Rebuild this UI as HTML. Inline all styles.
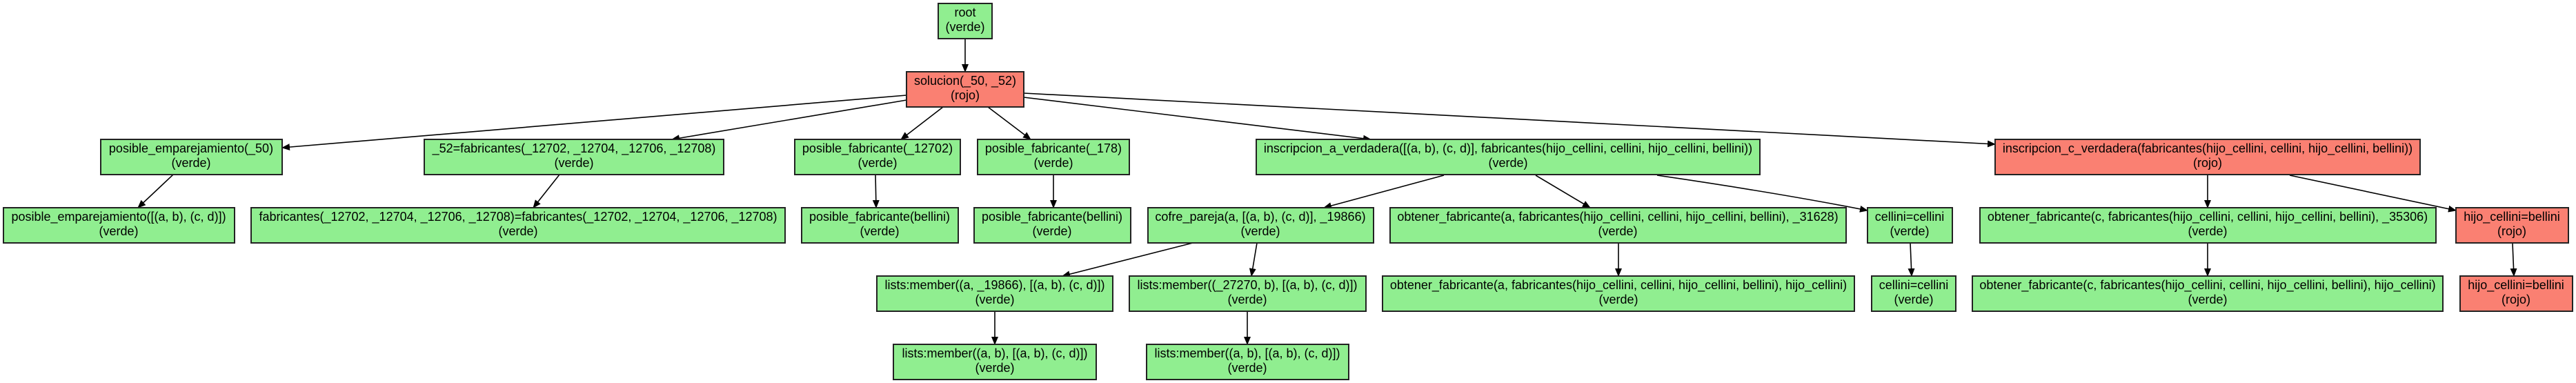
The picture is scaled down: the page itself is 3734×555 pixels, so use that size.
<!DOCTYPE html>
<html><head><meta charset="utf-8"><style>
html,body{margin:0;padding:0;background:#fff;}
svg{display:block;}
text{font-family:"Liberation Sans",Arial,sans-serif;font-size:18px;fill:#000;text-anchor:middle;}
.g{fill:#90ee90;stroke:#222;stroke-width:2;}
.r{fill:#fa8072;stroke:#222;stroke-width:2;}
.e{stroke:#000;stroke-width:1.6;fill:none;marker-end:url(#a);}
</style></head><body>
<svg width="3734" height="555" viewBox="0 0 3734 555" xmlns="http://www.w3.org/2000/svg">
<defs><marker id="a" markerWidth="12" markerHeight="10" refX="11" refY="5" orient="auto" markerUnits="userSpaceOnUse"><path d="M0,0 L12,5 L0,10 z" fill="#000"/></marker></defs>
<!-- edges -->
<line class="e" x1="1399" y1="56" x2="1399" y2="104"/>
<line class="e" x1="1314" y1="138" x2="409" y2="214"/>
<line class="e" x1="1314" y1="145" x2="974" y2="202"/>
<line class="e" x1="1367" y1="155" x2="1306" y2="202"/>
<line class="e" x1="1432" y1="155" x2="1494" y2="202"/>
<line class="e" x1="1484" y1="141" x2="1987" y2="202"/>
<line class="e" x1="1484" y1="135" x2="2892" y2="209"/>
<line class="e" x1="251" y1="253" x2="200" y2="301"/>
<line class="e" x1="811" y1="253" x2="773" y2="301"/>
<line class="e" x1="1269" y1="253" x2="1270" y2="301"/>
<line class="e" x1="1527" y1="253" x2="1527" y2="301"/>
<line class="e" x1="2093" y1="254" x2="1919" y2="301"/>
<line class="e" x1="2226" y1="254" x2="2305" y2="301"/>
<path class="e" d="M2402,254 Q2580,280 2707,305"/>
<line class="e" x1="3200" y1="254" x2="3200" y2="301"/>
<line class="e" x1="3319" y1="254" x2="3560" y2="305"/>
<line class="e" x1="1729" y1="352" x2="1540" y2="400"/>
<line class="e" x1="1822" y1="352" x2="1814" y2="400"/>
<line class="e" x1="2346" y1="352" x2="2346" y2="400"/>
<line class="e" x1="2769" y1="352" x2="2771" y2="400"/>
<line class="e" x1="3200" y1="352" x2="3200" y2="400"/>
<line class="e" x1="3642" y1="352" x2="3644" y2="400"/>
<line class="e" x1="1442" y1="451" x2="1442" y2="499"/>
<line class="e" x1="1808" y1="451" x2="1808" y2="499"/>
<!-- nodes -->
<rect class="g" x="1360" y="5" width="78" height="51"/><text x="1399" y="24">root</text><text x="1399" y="45">(verde)</text>
<rect class="r" x="1314" y="104" width="170" height="51"/><text x="1399" y="123">solucion(_50, _52)</text><text x="1399" y="144">(rojo)</text>

<rect class="g" x="146" y="202" width="263" height="51"/><text x="277" y="221">posible_emparejamiento(_50)</text><text x="277" y="242">(verde)</text>
<rect class="g" x="615" y="202" width="434" height="51"/><text x="832" y="221">_52=fabricantes(_12702, _12704, _12706, _12708)</text><text x="832" y="242">(verde)</text>
<rect class="g" x="1152" y="202" width="240" height="51"/><text x="1272" y="221">posible_fabricante(_12702)</text><text x="1272" y="242">(verde)</text>
<rect class="g" x="1417" y="202" width="220" height="51"/><text x="1527" y="221">posible_fabricante(_178)</text><text x="1527" y="242">(verde)</text>
<rect class="g" x="1821" y="202" width="730" height="51"/><text x="2186" y="221">inscripcion_a_verdadera([(a, b), (c, d)], fabricantes(hijo_cellini, cellini, hijo_cellini, bellini))</text><text x="2186" y="242">(verde)</text>
<rect class="r" x="2892" y="202" width="616" height="51"/><text x="3200" y="221">inscripcion_c_verdadera(fabricantes(hijo_cellini, cellini, hijo_cellini, bellini))</text><text x="3200" y="242">(rojo)</text>

<rect class="g" x="5" y="301" width="335" height="51"/><text x="172" y="320">posible_emparejamiento([(a, b), (c, d)])</text><text x="172" y="341">(verde)</text>
<rect class="g" x="364" y="301" width="774" height="51"/><text x="751" y="320">fabricantes(_12702, _12704, _12706, _12708)=fabricantes(_12702, _12704, _12706, _12708)</text><text x="751" y="341">(verde)</text>
<rect class="g" x="1162" y="301" width="227" height="51"/><text x="1275" y="320">posible_fabricante(bellini)</text><text x="1275" y="341">(verde)</text>
<rect class="g" x="1412" y="301" width="227" height="51"/><text x="1525" y="320">posible_fabricante(bellini)</text><text x="1525" y="341">(verde)</text>
<rect class="g" x="1664" y="301" width="327" height="51"/><text x="1827" y="320">cofre_pareja(a, [(a, b), (c, d)], _19866)</text><text x="1827" y="341">(verde)</text>
<rect class="g" x="2015" y="301" width="661" height="51"/><text x="2345" y="320">obtener_fabricante(a, fabricantes(hijo_cellini, cellini, hijo_cellini, bellini), _31628)</text><text x="2345" y="341">(verde)</text>
<rect class="g" x="2707" y="301" width="123" height="51"/><text x="2768" y="320">cellini=cellini</text><text x="2768" y="341">(verde)</text>
<rect class="g" x="2870" y="301" width="661" height="51"/><text x="3200" y="320">obtener_fabricante(c, fabricantes(hijo_cellini, cellini, hijo_cellini, bellini), _35306)</text><text x="3200" y="341">(verde)</text>
<rect class="r" x="3560" y="301" width="163" height="51"/><text x="3641" y="320">hijo_cellini=bellini</text><text x="3641" y="341">(rojo)</text>

<rect class="g" x="1271" y="400" width="342" height="51"/><text x="1442" y="419">lists:member((a, _19866), [(a, b), (c, d)])</text><text x="1442" y="440">(verde)</text>
<rect class="g" x="1637" y="400" width="343" height="51"/><text x="1808" y="419">lists:member((_27270, b), [(a, b), (c, d)])</text><text x="1808" y="440">(verde)</text>
<rect class="g" x="2004" y="400" width="684" height="51"/><text x="2346" y="419">obtener_fabricante(a, fabricantes(hijo_cellini, cellini, hijo_cellini, bellini), hijo_cellini)</text><text x="2346" y="440">(verde)</text>
<rect class="g" x="2713" y="400" width="122" height="51"/><text x="2774" y="419">cellini=cellini</text><text x="2774" y="440">(verde)</text>
<rect class="g" x="2859" y="400" width="682" height="51"/><text x="3200" y="419">obtener_fabricante(c, fabricantes(hijo_cellini, cellini, hijo_cellini, bellini), hijo_cellini)</text><text x="3200" y="440">(verde)</text>
<rect class="r" x="3566" y="400" width="163" height="51"/><text x="3647" y="419">hijo_cellini=bellini</text><text x="3647" y="440">(rojo)</text>

<rect class="g" x="1295" y="499" width="294" height="51"/><text x="1442" y="518">lists:member((a, b), [(a, b), (c, d)])</text><text x="1442" y="539">(verde)</text>
<rect class="g" x="1662" y="499" width="293" height="51"/><text x="1808" y="518">lists:member((a, b), [(a, b), (c, d)])</text><text x="1808" y="539">(verde)</text>
</svg>
</body></html>
